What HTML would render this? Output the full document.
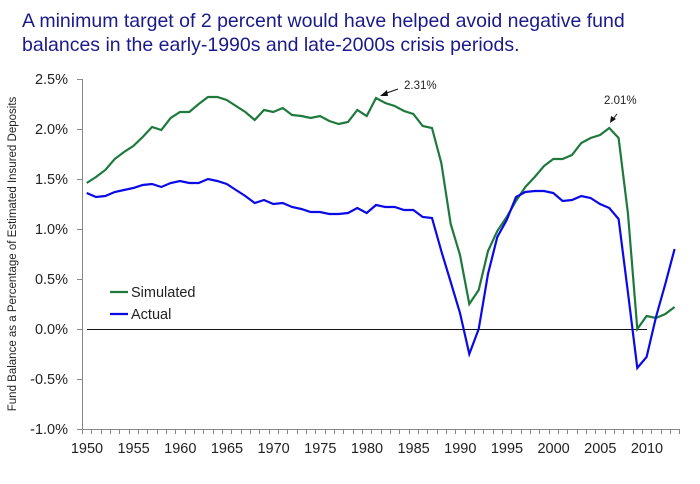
<!DOCTYPE html>
<html><head><meta charset="utf-8"><style>
html,body{margin:0;padding:0;background:#fff;}
svg{display:block;font-family:"Liberation Sans",sans-serif;}
</style></head><body>
<svg width="700" height="484" viewBox="0 0 700 484" xmlns="http://www.w3.org/2000/svg">
<text x="22" y="27" font-size="19.5" fill="#1a1a8c">A minimum target of 2 percent would have helped avoid negative fund</text>
<text x="22" y="51" font-size="19.5" fill="#1a1a8c">balances in the early-1990s and late-2000s crisis periods.</text>
<g font-size="14.5" fill="#222" text-anchor="end">
<text x="68" y="84">2.5%</text><text x="68" y="134">2.0%</text><text x="68" y="184">1.5%</text>
<text x="68" y="234">1.0%</text><text x="68" y="284">0.5%</text><text x="68" y="334">0.0%</text>
<text x="68" y="384">-0.5%</text><text x="68" y="434">-1.0%</text>
</g>
<g stroke="#888" stroke-width="1">
<line x1="82.5" y1="79" x2="82.5" y2="429"/>
<line x1="82" y1="429.5" x2="680" y2="429.5"/>
</g>
<g id="tk" stroke="#888"></g>
<g stroke="#888" stroke-width="1">
<path d="M77 79.5h5M77 129.5h5M77 179.5h5M77 229.5h5M77 279.5h5M77 329.5h5M77 379.5h5M77 429.5h5"/>
</g>
<g font-size="14.5" fill="#222" text-anchor="middle">
<text x="87" y="453">1950</text><text x="133.6" y="453">1955</text><text x="180.3" y="453">1960</text>
<text x="227" y="453">1965</text><text x="273.6" y="453">1970</text><text x="320.3" y="453">1975</text>
<text x="367" y="453">1980</text><text x="413.6" y="453">1985</text><text x="460.3" y="453">1990</text>
<text x="507" y="453">1995</text><text x="553.6" y="453">2000</text><text x="600.3" y="453">2005</text>
<text x="647" y="453">2010</text>
</g>
<text transform="translate(16,254) rotate(-90)" font-size="11.5" fill="#222" text-anchor="middle">Fund Balance as a Percentage of Estimated Insured Deposits</text>
<line x1="87" y1="329.5" x2="647" y2="329.5" stroke="#111" stroke-width="1"/>
<polyline id="sim" fill="none" stroke="#1e7a3c" stroke-width="2.2"/>
<polyline id="act" fill="none" stroke="#0a0ae6" stroke-width="2.2"/>
<line x1="110" y1="292" x2="128" y2="292" stroke="#1e7a3c" stroke-width="2.2"/>
<text x="131" y="297" font-size="14.5" fill="#222">Simulated</text>
<line x1="110" y1="314" x2="128" y2="314" stroke="#0a0ae6" stroke-width="2.2"/>
<text x="131" y="319" font-size="14.5" fill="#222">Actual</text>
<text x="404" y="89" font-size="11.5" fill="#222">2.31%</text>
<line x1="398" y1="89" x2="384" y2="94" stroke="#111" stroke-width="1"/>
<polygon points="380,96 387,90 388,96" fill="#111"/>
<text x="604" y="104" font-size="11.5" fill="#222">2.01%</text>
<line x1="617" y1="114" x2="613" y2="119" stroke="#111" stroke-width="1"/>
<polygon points="610,123 611,116 616,119" fill="#111"/>
</svg>
<script>
var sim=[1.46,1.52,1.59,1.70,1.77,1.83,1.92,2.02,1.99,2.11,2.17,2.17,2.25,2.32,2.32,2.29,2.23,2.17,2.09,2.19,2.17,2.21,2.14,2.13,2.11,2.13,2.08,2.05,2.07,2.19,2.13,2.31,2.26,2.23,2.18,2.15,2.03,2.01,1.66,1.05,0.74,0.25,0.39,0.78,0.98,1.12,1.28,1.42,1.52,1.63,1.70,1.70,1.74,1.86,1.91,1.94,2.01,1.91,1.15,0.00,0.13,0.11,0.15,0.22];
var act=[1.36,1.32,1.33,1.37,1.39,1.41,1.44,1.45,1.42,1.46,1.48,1.46,1.46,1.50,1.48,1.45,1.39,1.33,1.26,1.29,1.25,1.26,1.22,1.20,1.17,1.17,1.15,1.15,1.16,1.21,1.16,1.24,1.22,1.22,1.19,1.19,1.12,1.11,0.78,0.47,0.16,-0.25,0.00,0.55,0.92,1.09,1.32,1.37,1.38,1.38,1.36,1.28,1.29,1.33,1.31,1.25,1.21,1.10,0.36,-0.39,-0.28,0.12,0.45,0.80];
function pts(a){return a.map(function(v,i){return (82+(i+0.5)*9.333).toFixed(1)+","+(329-v*100).toFixed(1)}).join(" ");}
document.getElementById("sim").setAttribute("points",pts(sim));
document.getElementById("act").setAttribute("points",pts(act));
var d="";for(var i=0;i<=64;i++){var x=(Math.round(82+i*9.333)+0.5);d+="M"+x+" 429v5";}
var p=document.createElementNS("http://www.w3.org/2000/svg","path");p.setAttribute("d",d);p.setAttribute("stroke","#888");
document.getElementById("tk").appendChild(p);
</script>
</body></html>
